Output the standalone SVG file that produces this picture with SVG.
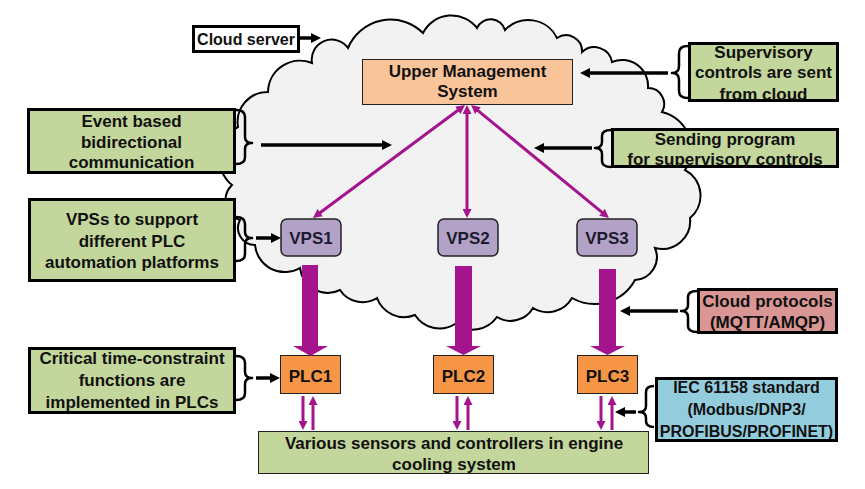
<svg xmlns="http://www.w3.org/2000/svg" width="865" height="489" viewBox="0 0 865 489">
<style>
.t{font-family:"Liberation Sans",Arial,sans-serif;font-weight:bold;font-size:17px;fill:#111;text-anchor:middle}
.cb{fill:#C3D69B;stroke:#000;stroke-width:3}
.br{fill:none;stroke:#000;stroke-width:2.5;stroke-linejoin:round}
.ka{stroke:#000;stroke-width:3.5;fill:none;marker-end:url(#ah)}
.pl{stroke:#A4148C;stroke-width:3;fill:none;marker-end:url(#ph)}
.pb{stroke:#A4148C;stroke-width:3;fill:none;marker-start:url(#ph);marker-end:url(#ph)}
.big{fill:#A4148C}
.vps{fill:#B3A2C7;stroke:#222;stroke-width:1.5}
.plc{fill:#F79646;stroke:#222;stroke-width:1}
</style>
<defs>
<marker id="ah" viewBox="0 0 10 10" markerUnits="userSpaceOnUse" markerWidth="10" markerHeight="10" refX="4" refY="5" orient="auto"><path d="M0,0 L10,5 L0,10 z" fill="#000"/></marker>
<marker id="ph" viewBox="0 0 10 10" markerUnits="userSpaceOnUse" markerWidth="9" markerHeight="9" refX="4" refY="5" orient="auto-start-reverse"><path d="M0,0 L10,5 L0,10 z" fill="#A4148C"/></marker>
</defs>
<rect width="865" height="489" fill="#fff"/>
<g id="cloud">
<path d="M232,185 A35,35 0 0 1 238,127 A30,30 0 0 1 268,92 A32,32 0 0 1 312,63 A20,20 0 0 1 348,48 A46,46 0 0 1 423,33 A32,32 0 0 1 477,28 A15,15 0 0 1 505,30 A32,32 0 0 1 557,38 A16,16 0 0 1 582,52 A18,18 0 0 1 612,62 A26,26 0 0 1 648,88 A16,16 0 0 1 662,112 A38,38 0 0 1 685,170 A29,29 0 0 1 690,218 A28,28 0 0 1 655,248 A23,23 0 0 1 635,280 A46,46 0 0 1 572,298 A28,28 0 0 1 533,308 A26,26 0 0 1 497,317 A30,30 0 0 1 455,324 A29,29 0 0 1 415,315 A29,29 0 0 1 377,298 A27,27 0 0 1 340,290 A28,28 0 0 1 300,268 A30,30 0 0 1 255,245 A17,17 0 0 1 240,220 A21,21 0 0 1 232,185 Z" fill="#F2F2F2" stroke="#000" stroke-width="2"/>
</g>
<g id="cloud-server">
<rect x="193.5" y="26.5" width="105" height="25" fill="#fff" stroke="#000" stroke-width="3"/>
<text class="t" x="246" y="45" style="font-size:16px">Cloud server</text>
</g>
<g id="ums">
<rect x="362.5" y="59.5" width="210" height="45" fill="#F9C49A" stroke="#222" stroke-width="1"/>
<text class="t" x="467.5" y="77">Upper Management</text>
<text class="t" x="467.5" y="97">System</text>
</g>
<g id="event-callout">
<rect class="cb" x="28.5" y="109.5" width="206" height="63"/>
<text class="t" x="131.5" y="127">Event based</text>
<text class="t" x="131.5" y="148">bidirectional</text>
<text class="t" x="131.5" y="168">communication</text>
</g>
<g id="vps-callout">
<rect class="cb" x="29.5" y="199.5" width="205" height="81"/>
<text class="t" x="132" y="225">VPSs to support</text>
<text class="t" x="132" y="247">different PLC</text>
<text class="t" x="132" y="268">automation platforms</text>
</g>
<g id="critical-callout">
<rect class="cb" x="29.5" y="348.5" width="205" height="64"/>
<text class="t" x="132" y="364">Critical time-constraint</text>
<text class="t" x="132" y="386">functions are</text>
<text class="t" x="132" y="408">implemented in PLCs</text>
</g>
<g id="supervisory-callout">
<rect class="cb" x="689.5" y="43.5" width="148" height="57"/>
<text class="t" x="763.5" y="57.5">Supervisory</text>
<text class="t" x="763.5" y="78">controls are sent</text>
<text class="t" x="763.5" y="100">from cloud</text>
</g>
<g id="sending-callout">
<rect class="cb" x="612.5" y="129.5" width="225" height="37"/>
<text class="t" x="725" y="145">Sending program</text>
<text class="t" x="725" y="165">for supervisory controls</text>
</g>
<g id="protocols-callout">
<rect x="698.5" y="289.5" width="138" height="43" fill="#D99694" stroke="#000" stroke-width="3"/>
<text class="t" x="767.5" y="307">Cloud protocols</text>
<text class="t" x="767.5" y="328">(MQTT/AMQP)</text>
</g>
<g id="iec-callout">
<rect x="656.5" y="378.5" width="180" height="62" fill="#93CDDD" stroke="#000" stroke-width="3"/>
<text class="t" x="746.5" y="393" style="font-size:16px">IEC 61158 standard</text>
<text class="t" x="746.5" y="415" style="font-size:16px">(Modbus/DNP3/</text>
<text class="t" x="746.5" y="437" style="font-size:16px">PROFIBUS/PROFINET)</text>
</g>
<g id="vps1">
<rect class="vps" x="281" y="219" width="60" height="37" rx="6"/>
<text class="t" x="311" y="244" style="fill:#1c1c30">VPS1</text>
</g>
<g id="vps2">
<rect class="vps" x="438" y="219" width="60" height="37" rx="6"/>
<text class="t" x="468" y="244" style="fill:#1c1c30">VPS2</text>
</g>
<g id="vps3">
<rect class="vps" x="577" y="219" width="60" height="37" rx="6"/>
<text class="t" x="607" y="244" style="fill:#1c1c30">VPS3</text>
</g>
<g id="plc1">
<rect class="plc" x="280.5" y="355.5" width="60" height="38"/>
<text class="t" x="310.5" y="382">PLC1</text>
</g>
<g id="plc2">
<rect class="plc" x="433.5" y="355.5" width="60" height="38"/>
<text class="t" x="463.5" y="382">PLC2</text>
</g>
<g id="plc3">
<rect class="plc" x="577.5" y="355.5" width="60" height="38"/>
<text class="t" x="607.5" y="382">PLC3</text>
</g>
<g id="sensors">
<rect x="258.5" y="431.5" width="390" height="42" fill="#C3D69B" stroke="#222" stroke-width="1"/>
<text class="t" x="454" y="449">Various sensors and controllers in engine</text>
<text class="t" x="454" y="470">cooling system</text>
</g>
<g id="connectors">
<path class="br" d="M236,110 Q245,110 245,117 L245,137 Q245,143 252,143 Q245,143 245,149 L245,157 Q245,164 236,164"/>
<path class="br" d="M236,217 Q245,217 245,224 L245,232 Q245,238 252,238 Q245,238 245,244 L245,254 Q245,261 236,261"/>
<path class="br" d="M236,356 Q245,356 245,363 L245,372 Q245,378 252,378 Q245,378 245,384 L245,393 Q245,400 236,400"/>
<path class="br" d="M688,46 Q679,46 679,53 L679,66 Q679,73 672,73 Q679,73 679,80 L679,91 Q679,98 688,98"/>
<path class="br" d="M611,130 Q602,130 602,136 L602,142 Q602,148 595,148 Q602,148 602,154 L602,161 Q602,167 611,167"/>
<path class="br" d="M697,291 Q688,291 688,297 L688,305 Q688,311 681,311 Q688,311 688,317 L688,326 Q688,332 697,332"/>
<path class="br" d="M654,386 Q646,386 646,392 L646,406 Q646,412 639,412 Q646,412 646,418 L646,421 Q646,427 654,427"/>
<line class="ka" x1="300" y1="38" x2="315" y2="38"/>
<line class="ka" x1="261" y1="145" x2="386" y2="145"/>
<line class="ka" x1="256" y1="238" x2="275" y2="238"/>
<line class="ka" x1="256" y1="378" x2="274" y2="378"/>
<line class="ka" x1="668" y1="73" x2="586" y2="73"/>
<line class="ka" x1="592" y1="148" x2="540" y2="148"/>
<line class="ka" x1="678" y1="311" x2="626" y2="311"/>
<line class="ka" x1="636" y1="412" x2="621" y2="412"/>
<line class="pb" x1="460.7" y1="108.2" x2="317.3" y2="214.8"/>
<line class="pb" x1="467" y1="110.4" x2="467" y2="212.6"/>
<line class="pb" x1="475.2" y1="108.4" x2="604.8" y2="214.6"/>
<polygon class="big" points="302,265 318,265 318,346 328,346 310.5,356 293,346 302,346"/>
<polygon class="big" points="455,266 472,266 472,346 481,346 463.5,355 446,346 455,346"/>
<polygon class="big" points="599,269 616,269 616,346 625,346 607.5,355 590,346 599,346"/>
<line class="pl" x1="303" y1="396" x2="303" y2="424.6"/>
<line class="pl" x1="313" y1="430" x2="313" y2="401.4"/>
<line class="pl" x1="457" y1="396" x2="457" y2="424.6"/>
<line class="pl" x1="468" y1="430" x2="468" y2="401.4"/>
<line class="pl" x1="601" y1="396" x2="601" y2="424.6"/>
<line class="pl" x1="612" y1="430" x2="612" y2="401.4"/>
</g>
</svg>
